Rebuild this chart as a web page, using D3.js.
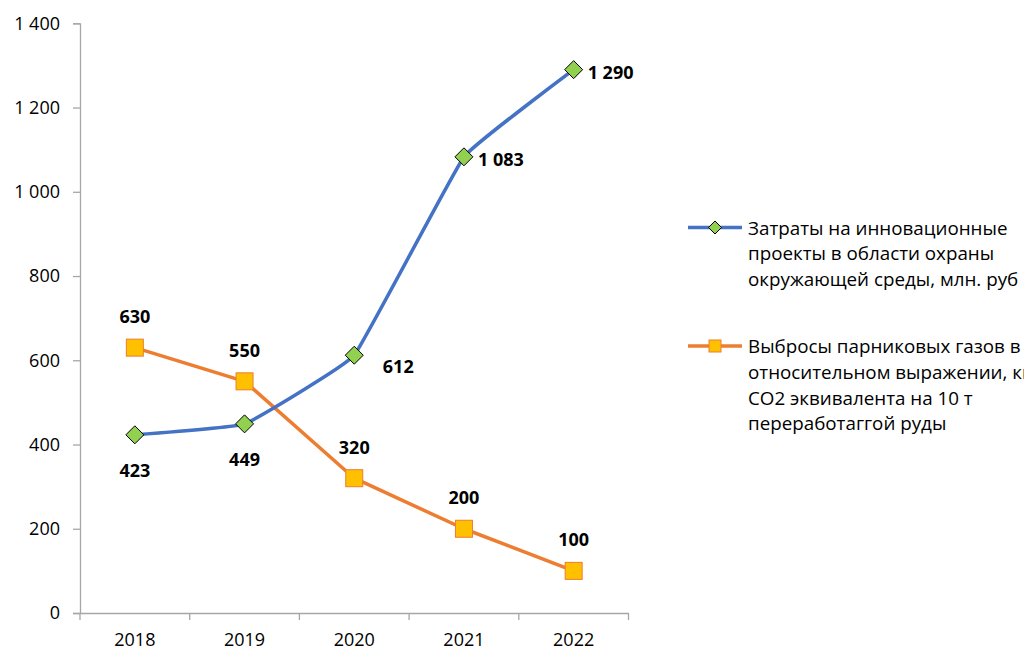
<!DOCTYPE html>
<html><head><meta charset="utf-8">
<script src="https://cdn.jsdelivr.net/npm/d3@7"></script>
<style>
html,body{margin:0;padding:0;background:#fff;overflow:hidden;}
text{font-family:"Open Sans",sans-serif;}
</style></head>
<body><svg id="c" width="1024" height="647"></svg>
<script>
const years = ["2018","2019","2020","2021","2022"];
const costs = [423, 449, 612, 1083, 1290];
const emissions = [630, 550, 320, 200, 100];
const yTicks = [0, 200, 400, 600, 800, 1000, 1200, 1400];
const costsName = ["Затраты на инновационные", "проекты в области охраны", "окружающей среды, млн. руб"];
const emissionsName = ["Выбросы парниковых газов в", "относительном выражении, кг", "СО2 эквивалента на 10 т", "переработаггой руды"];
const costsLabelPlace = ["below", "below", "belowRight", "right", "right"];
const emissionsLabelPlace = ["above", "above", "above", "above", "above"];

const svg = d3.select("#c");
const fmt = v => d3.format(",")(v).replace(/,/g, " ");

const x = d3.scaleBand().domain(years).range([80, 628.5]);
const y = d3.scaleLinear().domain([0, 1400]).range([613, 23.3]);
const cx = d => x(d) + x.bandwidth() / 2;
const axisColor = "#a6a6a6";

// Y axis
const ya = svg.append("g").attr("transform", "translate(80,0)")
  .call(d3.axisLeft(y).tickValues(yTicks).tickSize(7).tickPadding(13).tickFormat(fmt));
ya.select(".domain").attr("stroke", axisColor).attr("stroke-width", 1.3);
ya.selectAll(".tick line").attr("stroke", axisColor).attr("stroke-width", 1.3);
ya.selectAll(".tick text").attr("font-size", 18).attr("fill", "#000").attr("font-family", "Open Sans");

// X axis
const xa = svg.append("g").attr("transform", "translate(0,613)")
  .call(d3.axisBottom(x).tickSize(0).tickPadding(20));
xa.select(".domain").attr("stroke", axisColor).attr("stroke-width", 1.3);
xa.selectAll(".tick text").attr("font-size", 18).attr("fill", "#000").attr("font-family", "Open Sans");
const bounds = years.map(d => x(d)).concat([x(years[years.length - 1]) + x.bandwidth()]);
xa.selectAll(".bt").data(bounds).enter().append("line")
  .attr("x1", d => d).attr("x2", d => d).attr("y1", 0).attr("y2", 7)
  .attr("stroke", axisColor).attr("stroke-width", 1.3);

// Lines
const costsData = years.map((d, i) => ({ k: d, v: costs[i], p: costsLabelPlace[i] }));
const emisData = years.map((d, i) => ({ k: d, v: emissions[i], p: emissionsLabelPlace[i] }));

svg.append("path").datum(emisData)
  .attr("d", d3.line().x(d => cx(d.k)).y(d => y(d.v)))
  .attr("fill", "none").attr("stroke", "#ed7d31").attr("stroke-width", 3.5).attr("stroke-linejoin", "round");
svg.append("path").datum(costsData)
  .attr("d", d3.line().curve(d3.curveCardinal.tension(0.75)).x(d => cx(d.k)).y(d => y(d.v)))
  .attr("fill", "none").attr("stroke", "#4472c4").attr("stroke-width", 3.5).attr("stroke-linejoin", "round");

// Markers
const diamond = (s) => `M0,${-s}L${s},0L0,${s}L${-s},0Z`;
svg.selectAll(".sq").data(emisData).enter().append("rect")
  .attr("x", d => cx(d.k) - 8.5).attr("y", d => y(d.v) - 8.5).attr("width", 17).attr("height", 17)
  .attr("fill", "#ffc000").attr("stroke", "#ed7d31").attr("stroke-width", 1);
svg.selectAll(".dm").data(costsData).enter().append("path")
  .attr("d", diamond(9)).attr("transform", d => `translate(${cx(d.k)},${y(d.v)})`)
  .attr("fill", "#92d050").attr("stroke", "#000").attr("stroke-width", 1);

// Data labels
const offsets = {
  above: [0, -31.5, "middle"],
  below: [0, 35.5, "middle"],
  right: [14, 2, "start"],
  belowRight: [44, 10.5, "middle"]
};
function labels(data, cls) {
  svg.selectAll("." + cls).data(data).enter().append("text")
    .attr("x", d => cx(d.k) + offsets[d.p][0])
    .attr("y", d => y(d.v) + offsets[d.p][1])
    .attr("text-anchor", d => offsets[d.p][2])
    .attr("dominant-baseline", "central")
    .attr("font-size", 18).attr("font-weight", "bold").attr("fill", "#000")
    .text(d => fmt(d.v));
}
labels(costsData, "lc");
labels(emisData, "le");

// Legend
const lg = svg.append("g");
function legendItem(yy, color, names, marker) {
  lg.append("line").attr("x1", 688).attr("x2", 742).attr("y1", yy).attr("y2", yy)
    .attr("stroke", color).attr("stroke-width", 3.5);
  if (marker === "diamond") {
    lg.append("path").attr("d", diamond(6.5)).attr("transform", `translate(715,${yy})`)
      .attr("fill", "#92d050").attr("stroke", "#000").attr("stroke-width", 1);
  } else {
    lg.append("rect").attr("x", 709).attr("y", yy - 6).attr("width", 12).attr("height", 12)
      .attr("fill", "#ffc000").attr("stroke", "#ed7d31").attr("stroke-width", 1);
  }
  lg.selectAll(null).data(names).enter().append("text")
    .attr("x", 748).attr("y", (d, i) => yy + i * 25.8)
    .attr("dominant-baseline", "central")
    .attr("font-size", 18.8).attr("fill", "#000")
    .text(d => d);
}
legendItem(227.5, "#4472c4", costsName, "diamond");
legendItem(346, "#ed7d31", emissionsName, "square");
</script></body></html>
